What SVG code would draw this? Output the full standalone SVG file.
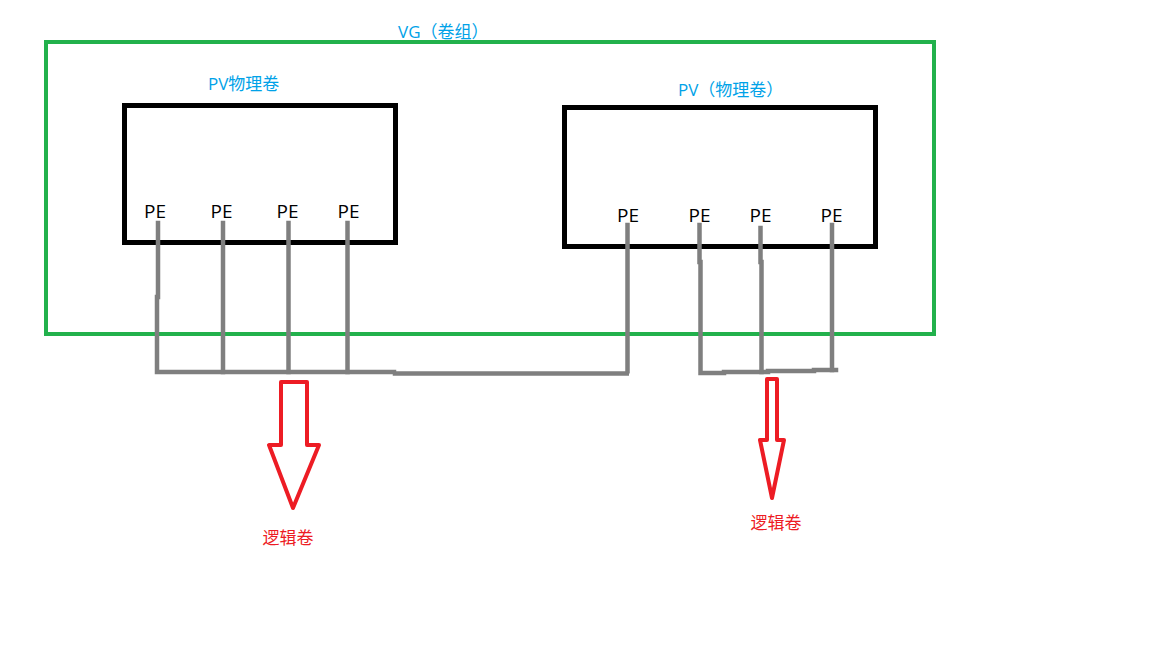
<svg xmlns="http://www.w3.org/2000/svg" width="1152" height="648" viewBox="0 0 1152 648">
<style>
.box{fill:none;stroke:#000;stroke-width:5}
.vg{fill:none;stroke:#22b14c;stroke-width:4}
.wire{fill:none;stroke:#7f7f7f;stroke-width:4.5;stroke-linecap:square}
.arrow{fill:#fff;stroke:#ed1c24;stroke-width:4;stroke-linejoin:round}
.pe{font-family:"Open Sans","Liberation Sans",sans-serif;font-size:19px;fill:#000;text-anchor:middle}
.blue{font-family:"Open Sans","Noto Sans CJK SC",sans-serif;font-size:17px;fill:#00a2e8}
.red{font-family:"Noto Sans CJK SC",sans-serif;font-size:17px;fill:#ed1c24;text-anchor:middle}
</style>
<rect width="1152" height="648" fill="#fff"/>
<g id="vg">
<rect class="vg" x="46" y="42" width="888" height="292"/>
<text class="blue" x="398" y="38">VG（卷组）</text>
</g>
<g id="pv1">
<rect class="box" x="124.5" y="105.5" width="271" height="137"/>
<text class="blue" x="208" y="90">PV物理卷</text>
<text class="pe" x="155" y="218">PE</text>
<text class="pe" x="221.5" y="218">PE</text>
<text class="pe" x="287.5" y="218">PE</text>
<text class="pe" x="348.5" y="218">PE</text>
</g>
<g id="pv2">
<rect class="box" x="564.5" y="107.5" width="311" height="139"/>
<text class="blue" x="678" y="96">PV（物理卷）</text>
<text class="pe" x="628" y="222">PE</text>
<text class="pe" x="699.5" y="222">PE</text>
<text class="pe" x="760.5" y="222">PE</text>
<text class="pe" x="831.5" y="222">PE</text>
</g>
<g id="connectors">
<polyline class="wire" points="158,223 158,297 157,297 157,372 394,372"/>
<line class="wire" x1="223" y1="223" x2="223" y2="372"/>
<line class="wire" x1="288.5" y1="223" x2="288.5" y2="372"/>
<line class="wire" x1="347.5" y1="223" x2="347.5" y2="372"/>
<polyline class="wire" points="395,373.5 629,373.5 627.5,373.5 627.5,225"/>
<polyline class="wire" points="699.5,225 699.5,262 700.5,262 700.5,373 724,373 724,372 768,372 768,371 814,371 814,370 836,370"/>
<polyline class="wire" points="760.5,228 760.5,262 761.5,262 761.5,372"/>
<line class="wire" x1="832" y1="225" x2="832" y2="370"/>
</g>
<g id="lv1">
<polygon class="arrow" points="281,382 307,382 307,445 319,445 293,508 269,445 281,445"/>
<text class="red" x="288" y="544">逻辑卷</text>
</g>
<g id="lv2">
<polygon class="arrow" points="767,379 777,379 777,440 784,440 772,498 760,440 767,440"/>
<text class="red" x="776" y="529">逻辑卷</text>
</g>
</svg>
